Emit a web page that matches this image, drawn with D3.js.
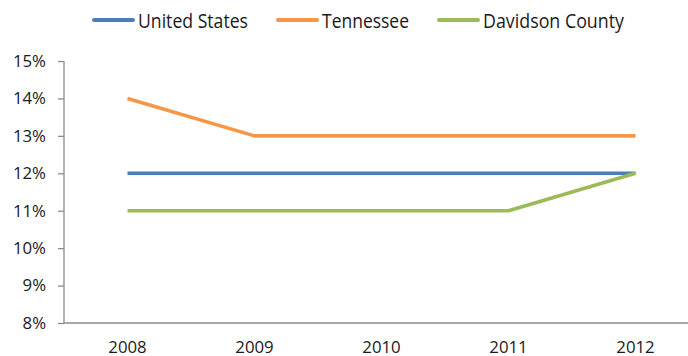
<!DOCTYPE html>
<html>
<head>
<meta charset="utf-8">
<script src="https://cdn.jsdelivr.net/npm/d3@7"></script>
<style>
  html, body { margin: 0; padding: 0; background: #fff; }
  svg { display: block; }
  text { font-family: "Open Sans", "Noto Sans", sans-serif; fill: #1a1a1a; }
</style>
</head>
<body>
<svg id="chart" width="688" height="356"></svg>
<script>
// Rate by year, three geographies
const years = ["2008", "2009", "2010", "2011", "2012"];
const unitedStates = [12, 12, 12, 12, 12];
const tennessee = [14, 13, 13, 13, 13];
const davidsonCounty = [11, 11, 11, 11, 12];
const seriesNames = ["United States", "Tennessee", "Davidson County"];
const seriesColors = ["#4a7ebb", "#f79646", "#9bbb59"];
const yTicks = [8, 9, 10, 11, 12, 13, 14, 15];

const series = [unitedStates, tennessee, davidsonCounty].map((vals, i) => ({
  name: seriesNames[i], color: seriesColors[i], values: vals
}));

const svg = d3.select("#chart");
const plotLeft = 64, plotRight = 699, plotTop = 61, plotBottom = 323;

const x = d3.scaleBand().domain(years).range([plotLeft, plotRight]);
const y = d3.scaleLinear().domain([8, 15]).range([plotBottom, plotTop]);

// Y axis
const yAxis = svg.append("g").attr("transform", `translate(${plotLeft},0)`)
  .call(d3.axisLeft(y).tickValues(yTicks).tickSize(6).tickPadding(12)
    .tickFormat(d => d + "%"));
yAxis.selectAll("path, line").attr("stroke", "#8c8c8c").attr("stroke-width", 1.3);
yAxis.select(".domain").attr("d", `M0,${plotTop}V${plotBottom}`);
yAxis.selectAll("text").attr("font-size", 16.8).style("fill", "#1a1a1a")
  .attr("font-family", "'Open Sans', sans-serif");

// X axis
const xAxis = svg.append("g").attr("transform", `translate(0,${plotBottom})`)
  .call(d3.axisBottom(x).tickSize(0).tickPadding(18));
xAxis.select(".domain").attr("stroke", "#8c8c8c").attr("stroke-width", 1.3)
  .attr("d", `M${plotLeft},0H688`);
xAxis.selectAll("text").attr("font-size", 16.8).style("fill", "#1a1a1a")
  .attr("font-family", "'Open Sans', sans-serif");

// Lines
const line = d3.line()
  .x((d, i) => x(years[i]) + x.bandwidth() / 2)
  .y(d => y(d));

svg.append("g").selectAll("path")
  .data(series)
  .join("path")
  .attr("d", d => line(d.values))
  .attr("fill", "none")
  .attr("stroke", d => d.color)
  .attr("stroke-width", 3.6)
  .attr("stroke-linejoin", "round");

// Legend: swatch + condensed label for each series
const legendX = [93, 277, 438];
const labelWidths = [110, 87, 141];
const legend = svg.append("g").selectAll("g")
  .data(series)
  .join("g")
  .attr("transform", (d, i) => `translate(${legendX[i]},20)`);
legend.append("line")
  .attr("x1", 1).attr("x2", 40).attr("y1", 0).attr("y2", 0)
  .attr("stroke", d => d.color).attr("stroke-width", 4).attr("stroke-linecap", "round");
legend.append("text")
  .attr("x", 45).attr("y", 7.5)
  .attr("font-size", 20)
  .attr("textLength", (d, i) => labelWidths[i])
  .attr("lengthAdjust", "spacingAndGlyphs")
  .text(d => d.name);
</script>
</body>
</html>
